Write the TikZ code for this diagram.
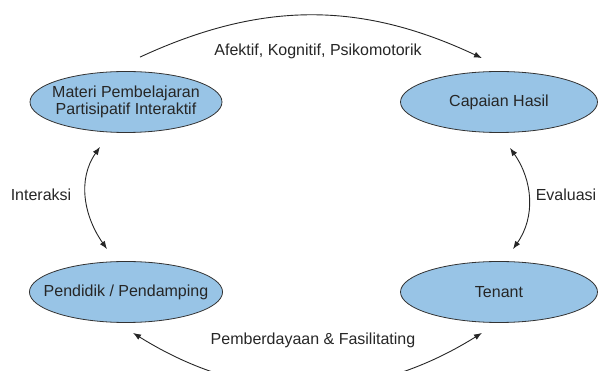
\documentclass[tikz,border=0pt]{standalone}
\usepackage{fontspec}
\setmainfont{Liberation Sans}
\usepackage{tikz}
\usetikzlibrary{shapes.geometric,arrows.meta}
\definecolor{ellfill}{RGB}{152,196,230}
\tikzstyle{state}=[ellipse,draw=black!80,line width=0.8pt,fill=ellfill,minimum height=61pt,inner ysep=1pt,inner xsep=-14pt,align=center,text=black!85]
\tikzstyle{label}=[text=black!85]
\tikzstyle{line} = [draw, line width=0.9pt, black!85, {Latex[length=8pt,width=6pt]}-{Latex[length=8pt,width=6pt]}]

\begin{document}
\begin{tikzpicture}[x=1pt,y=-1pt,font=\fontsize{16}{16.5}\selectfont]
  \useasboundingbox (0,0) rectangle (598,371);
  \node[state,minimum width=192pt] (MPI) at (126,102) {Materi Pembelajaran\\Partisipatif Interaktif};
  \node[state,minimum width=197pt] (CH)  at (499,102) {Capaian Hasil};
  \node[state,minimum width=192pt] (PP)  at (126,292) {Pendidik / Pendamping};
  \node[state,minimum width=197pt] (TN)  at (499,292) {Tenant};
  % labels
  \node[label] (afektif)  at (318,51)  {Afektif, Kognitif, Psikomotorik};
  \node[label] (interaksi) at (41,195) {Interaksi};
  \node[label] (evaluasi) at (566,195) {Evaluasi};
  \node[label] (berdaya)  at (313,340) {Pemberdayaan \& Fasilitating};
  % arrows
  \draw[line,-{Latex[length=8pt,width=6pt]}]
    ([xshift=14pt,yshift=14pt]MPI.north) to[bend left=25] ([xshift=-17pt,yshift=13pt]CH.north);
  \draw[line] ([xshift=-26pt,yshift=-14pt]MPI.south) to[out=235,in=125] ([xshift=-19pt,yshift=12pt]PP.north);
  \draw[line] ([xshift=11pt,yshift=-15pt]CH.south) to[out=-55,in=55] ([xshift=14pt,yshift=12pt]TN.north);
  \draw[line] ([xshift=7pt,yshift=-10pt]PP.south) to[bend right=32] ([xshift=-17pt,yshift=-10pt]TN.south);
\end{tikzpicture}
\end{document}
